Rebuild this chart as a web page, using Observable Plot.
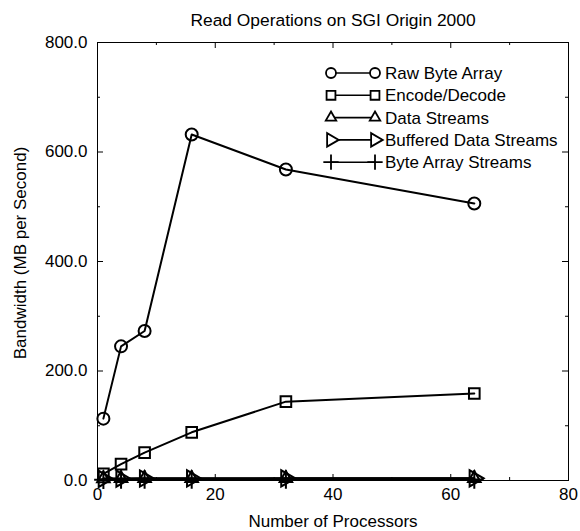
<!DOCTYPE html>
<html><head><meta charset="utf-8">
<script src="https://cdn.jsdelivr.net/npm/d3@7"></script>
<script src="https://cdn.jsdelivr.net/npm/@observablehq/plot@0.6"></script>
<style>body{margin:0;background:#fff}</style>
</head><body><div id="chart"></div>
<script>
const chartTitle = "Read Operations on SGI Origin 2000";
const xLabel = "Number of Processors";
const yLabel = "Bandwidth (MB per Second)";
const processors = [1, 4, 8, 16, 32, 64];
const seriesNames = ["Raw Byte Array", "Encode/Decode", "Data Streams", "Buffered Data Streams", "Byte Array Streams"];
const rawByteArray = [113, 245, 273, 632, 568, 506];
const encodeDecode = [12, 30, 51, 88, 144, 159];
const dataStreams = [3.5, 3.8, 3.9, 4, 4, 4];
const bufferedDataStreams = [3, 3.4, 3.6, 3.8, 3.9, 3.9];
const byteArrayStreams = [1.5, 1.8, 2, 2, 2, 2];
const xMajorTicks = [0, 20, 40, 60, 80];
const xMinorTicks = [10, 30, 50, 70];
const yMajorTicks = [0, 200, 400, 600, 800];
const yMinorTicks = [100, 300, 500, 700];

const seriesValues = [rawByteArray, encodeDecode, dataStreams, bufferedDataStreams, byteArrayStreams];
const data = seriesNames.flatMap((s, i) => processors.map((p, j) => ({series: s, x: p, y: seriesValues[i][j]})));

const triangleRight = {
  draw(context, size) {
    const a = Math.sqrt(4 * size / Math.sqrt(3));
    const h = a * Math.sqrt(3) / 2;
    context.moveTo(2 * h / 3, 0);
    context.lineTo(-h / 3, a / 2);
    context.lineTo(-h / 3, -a / 2);
    context.closePath();
  }
};
const symbols = ["circle", "square", "triangle2", triangleRight, "plus"];
const d3Symbols = [d3.symbolCircle, d3.symbolSquare, d3.symbolTriangle2, triangleRight, d3.symbolPlus];

const W = 580, H = 531, mL = 97, mR = 12, mT = 42, mB = 51;
const fw = W - mL - mR, fh = H - mT - mB;
const font = "'Liberation Sans', Arial, Helvetica, sans-serif";

function legend(index, scales, values, dimensions) {
  const g = d3.create("svg:g").attr("text-anchor", "start");
  const y0 = 73, step = 22.3, x1 = 331, x2 = 375, tx = 385;
  seriesNames.forEach((s, i) => {
    const y = y0 + i * step;
    g.append("line").attr("x1", x1).attr("x2", x2).attr("y1", y).attr("y2", y)
      .attr("stroke", "black").attr("stroke-width", 1.6);
    const path = d3.symbol(d3Symbols[i], Math.PI * 5 * 5)();
    [x1, x2].forEach(x => g.append("path").attr("d", path)
      .attr("transform", `translate(${x},${y})`)
      .attr("fill", "white").attr("stroke", "black").attr("stroke-width", 1.8));
    g.append("text").attr("x", tx).attr("y", y).attr("dy", "0.35em")
      .attr("text-anchor", "start").attr("font-size", 17).attr("fill", "black").text(s);
  });
  return g.node();
}

const plot = Plot.plot({
  width: W, height: H,
  marginLeft: mL, marginRight: mR, marginTop: mT, marginBottom: mB,
  style: {fontFamily: font, fontSize: "17px", background: "white", color: "black"},
  x: {domain: [0, 80]},
  y: {domain: [0, 800]},
  marks: [
    Plot.frame({stroke: "black", strokeWidth: 1}),
    Plot.tickY(yMajorTicks, {y: d => d, insetRight: fw - 6, stroke: "black"}),
    Plot.tickY(yMinorTicks, {y: d => d, insetRight: fw - 3, stroke: "black"}),
    Plot.tickY(yMajorTicks, {y: d => d, insetLeft: fw - 6, stroke: "black"}),
    Plot.tickY(yMinorTicks, {y: d => d, insetLeft: fw - 3, stroke: "black"}),
    Plot.tickX(xMajorTicks, {x: d => d, insetTop: fh - 6, stroke: "black"}),
    Plot.tickX(xMinorTicks, {x: d => d, insetTop: fh - 3, stroke: "black"}),
    Plot.tickX(xMajorTicks, {x: d => d, insetBottom: fh - 6, stroke: "black"}),
    Plot.tickX(xMinorTicks, {x: d => d, insetBottom: fh - 3, stroke: "black"}),
    Plot.axisX({ticks: xMajorTicks, tickSize: 0, tickPadding: 7, tickFormat: d => String(d), label: null, fontSize: 17}),
    Plot.axisY({ticks: yMajorTicks, tickSize: 0, tickPadding: 10, tickFormat: d3.format(".1f"), label: null, fontSize: 17}),
    Plot.line(data, {x: "x", y: "y", z: "series", stroke: "black", strokeWidth: 2}),
    ...seriesNames.map((s, i) => Plot.dot(data.filter(d => d.series === s), {
      x: "x", y: "y", symbol: () => symbols[i], r: 6, stroke: "black", strokeWidth: 2, fill: "none"
    })),
    Plot.text([chartTitle], {frameAnchor: "top", textAnchor: "middle", lineAnchor: "bottom", dy: -17, fontSize: 17.4, fill: "black"}),
    Plot.text([xLabel], {frameAnchor: "bottom", textAnchor: "middle", lineAnchor: "bottom", dy: 46, fontSize: 17, fill: "black"}),
    Plot.text([yLabel], {frameAnchor: "left", textAnchor: "middle", rotate: -90, dx: -77, dy: -8.5, fontSize: 17, fill: "black"}),
    legend
  ]
});
document.getElementById("chart").append(plot);
</script>
</body></html>
